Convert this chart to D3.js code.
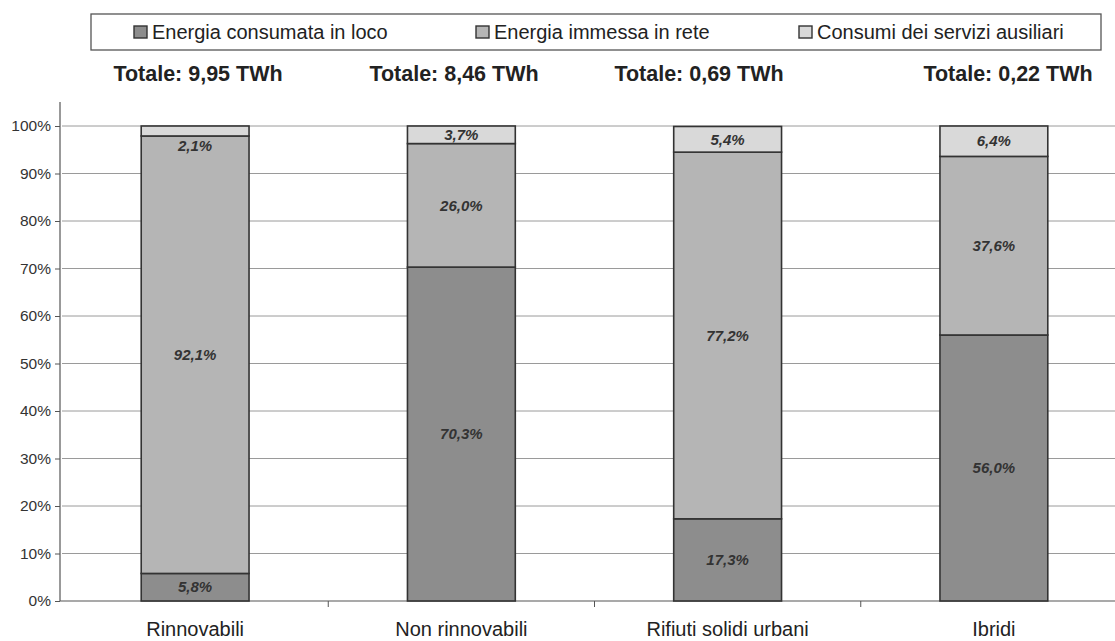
<!DOCTYPE html>
<html>
<head>
<meta charset="utf-8">
<script src="https://cdn.jsdelivr.net/npm/d3@7"></script>
<style>
  body { margin: 0; background: #fff; }
  svg { display: block; font-family: "Liberation Sans", Arial, sans-serif; }
</style>
</head>
<body>
<div id="chart"></div>
<script>
// data
const categories = ["Rinnovabili", "Non rinnovabili", "Rifiuti solidi urbani", "Ibridi"];
const totals = ["Totale: 9,95 TWh", "Totale: 8,46 TWh", "Totale: 0,69 TWh", "Totale: 0,22 TWh"];
const seriesNames = ["Energia consumata in loco", "Energia immessa in rete", "Consumi dei servizi ausiliari"];
const consumata = [5.8, 70.3, 17.3, 56.0];
const immessa = [92.1, 26.0, 77.2, 37.6];
const ausiliari = [2.1, 3.7, 5.4, 6.4];
const yTicks = [0, 10, 20, 30, 40, 50, 60, 70, 80, 90, 100];

const width = 1115, height = 641;
const margin = {top: 126, right: -12, bottom: 40, left: 62};
const colors = ["#8d8d8d", "#b5b5b5", "#d9d9d9"];

const svg = d3.select("#chart").append("svg")
    .attr("width", width)
    .attr("height", height);

const x = d3.scaleBand()
    .domain(categories)
    .range([margin.left, width - margin.right])
    .padding(0);

const y = d3.scaleLinear()
    .domain([0, 100])
    .range([height - margin.bottom, margin.top]);

const barW = x.step() * 0.405;

// gridlines
svg.append("g")
    .selectAll("line")
    .data(yTicks.filter(d => d > 0))
    .join("line")
    .attr("x1", margin.left)
    .attr("x2", width)
    .attr("y1", d => y(d))
    .attr("y2", d => y(d))
    .attr("stroke", "#9a9a9a")
    .attr("stroke-width", 1);

// y axis
const yAxis = d3.axisLeft(y)
    .tickValues(yTicks)
    .tickFormat(d => d + "%")
    .tickSize(5)
    .tickPadding(4);

const yAxisGroup = svg.append("g")
    .attr("transform", `translate(${margin.left - 2},0)`)
    .call(yAxis);
yAxisGroup.select(".domain").remove();
yAxisGroup.selectAll(".tick line").attr("stroke", "#555");
yAxisGroup.selectAll("text").attr("font-size", 15.5).attr("fill", "#333").attr("font-family", "Liberation Sans, Arial, sans-serif");
yAxisGroup.append("line")
    .attr("x1", 0).attr("x2", 0)
    .attr("y1", 102).attr("y2", y(0))
    .attr("stroke", "#555").attr("stroke-width", 1.2);

// x axis
const xAxis = d3.axisBottom(x).tickSize(0).tickPadding(21);
const xAxisGroup = svg.append("g")
    .attr("transform", `translate(0,${y(0)})`)
    .call(xAxis);
xAxisGroup.select(".domain").remove();
xAxisGroup.selectAll("text").attr("font-size", 20).attr("fill", "#222").attr("font-family", "Liberation Sans, Arial, sans-serif");
xAxisGroup.append("line")
    .attr("x1", margin.left - 2).attr("x2", width)
    .attr("y1", 0).attr("y2", 0)
    .attr("stroke", "#555").attr("stroke-width", 1.2);
xAxisGroup.selectAll(".sep")
    .data(categories.slice(1))
    .join("line")
    .attr("class", "sep")
    .attr("x1", d => x(d)).attr("x2", d => x(d))
    .attr("y1", 0).attr("y2", 6)
    .attr("stroke", "#555");

// stacked bars
const rows = categories.map((c, i) => ({cat: c, v: [consumata[i], immessa[i], ausiliari[i]]}));
const segs = [];
rows.forEach(r => {
    let acc = 0;
    r.v.forEach((v, k) => {
        segs.push({cat: r.cat, k: k, y0: acc, y1: acc + v, v: v});
        acc += v;
    });
});

const bars = svg.append("g");
bars.selectAll("rect")
    .data(segs)
    .join("rect")
    .attr("x", d => x(d.cat) + (x.step() - barW) / 2)
    .attr("width", barW)
    .attr("y", d => y(d.y1))
    .attr("height", d => y(d.y0) - y(d.y1))
    .attr("fill", d => colors[d.k])
    .attr("stroke", "#333")
    .attr("stroke-width", 1.6);

// data labels
const fmt = v => v.toFixed(1).replace(".", ",") + "%";
bars.selectAll("text")
    .data(segs)
    .join("text")
    .attr("x", d => x(d.cat) + x.step() / 2)
    .attr("y", d => {
        const top = y(d.y1), bot = y(d.y0);
        return (bot - top) < 14 ? bot + 10 : (top + bot) / 2;
    })
    .attr("dy", "0.35em")
    .attr("text-anchor", "middle")
    .attr("font-size", 15)
    .attr("font-weight", "bold")
    .attr("font-style", "italic")
    .attr("fill", "#333")
    .text(d => fmt(d.v));

// totals above the plot
const totalX = [198, 454, 699, 1008];
svg.append("g")
    .selectAll("text")
    .data(totals)
    .join("text")
    .attr("x", (d, i) => totalX[i])
    .attr("y", 81)
    .attr("text-anchor", "middle")
    .attr("font-size", 21.5)
    .attr("font-weight", "bold")
    .attr("fill", "#222")
    .text(d => d);

// legend
const legend = svg.append("g");
legend.append("rect")
    .attr("x", 91).attr("y", 14)
    .attr("width", 1010).attr("height", 36)
    .attr("fill", "#fff")
    .attr("stroke", "#555")
    .attr("stroke-width", 1.3);
const legendX = [134, 476, 799];
const items = legend.selectAll("g.item")
    .data(seriesNames)
    .join("g")
    .attr("class", "item")
    .attr("transform", (d, i) => `translate(${legendX[i]},32)`);
items.append("rect")
    .attr("x", 0).attr("y", -6)
    .attr("width", 13).attr("height", 12)
    .attr("fill", (d, i) => colors[i])
    .attr("stroke", "#333")
    .attr("stroke-width", 1.4);
items.append("text")
    .attr("x", 18)
    .attr("dy", "0.36em")
    .attr("font-size", 20)
    .attr("fill", "#222")
    .text(d => d);
</script>
</body>
</html>
